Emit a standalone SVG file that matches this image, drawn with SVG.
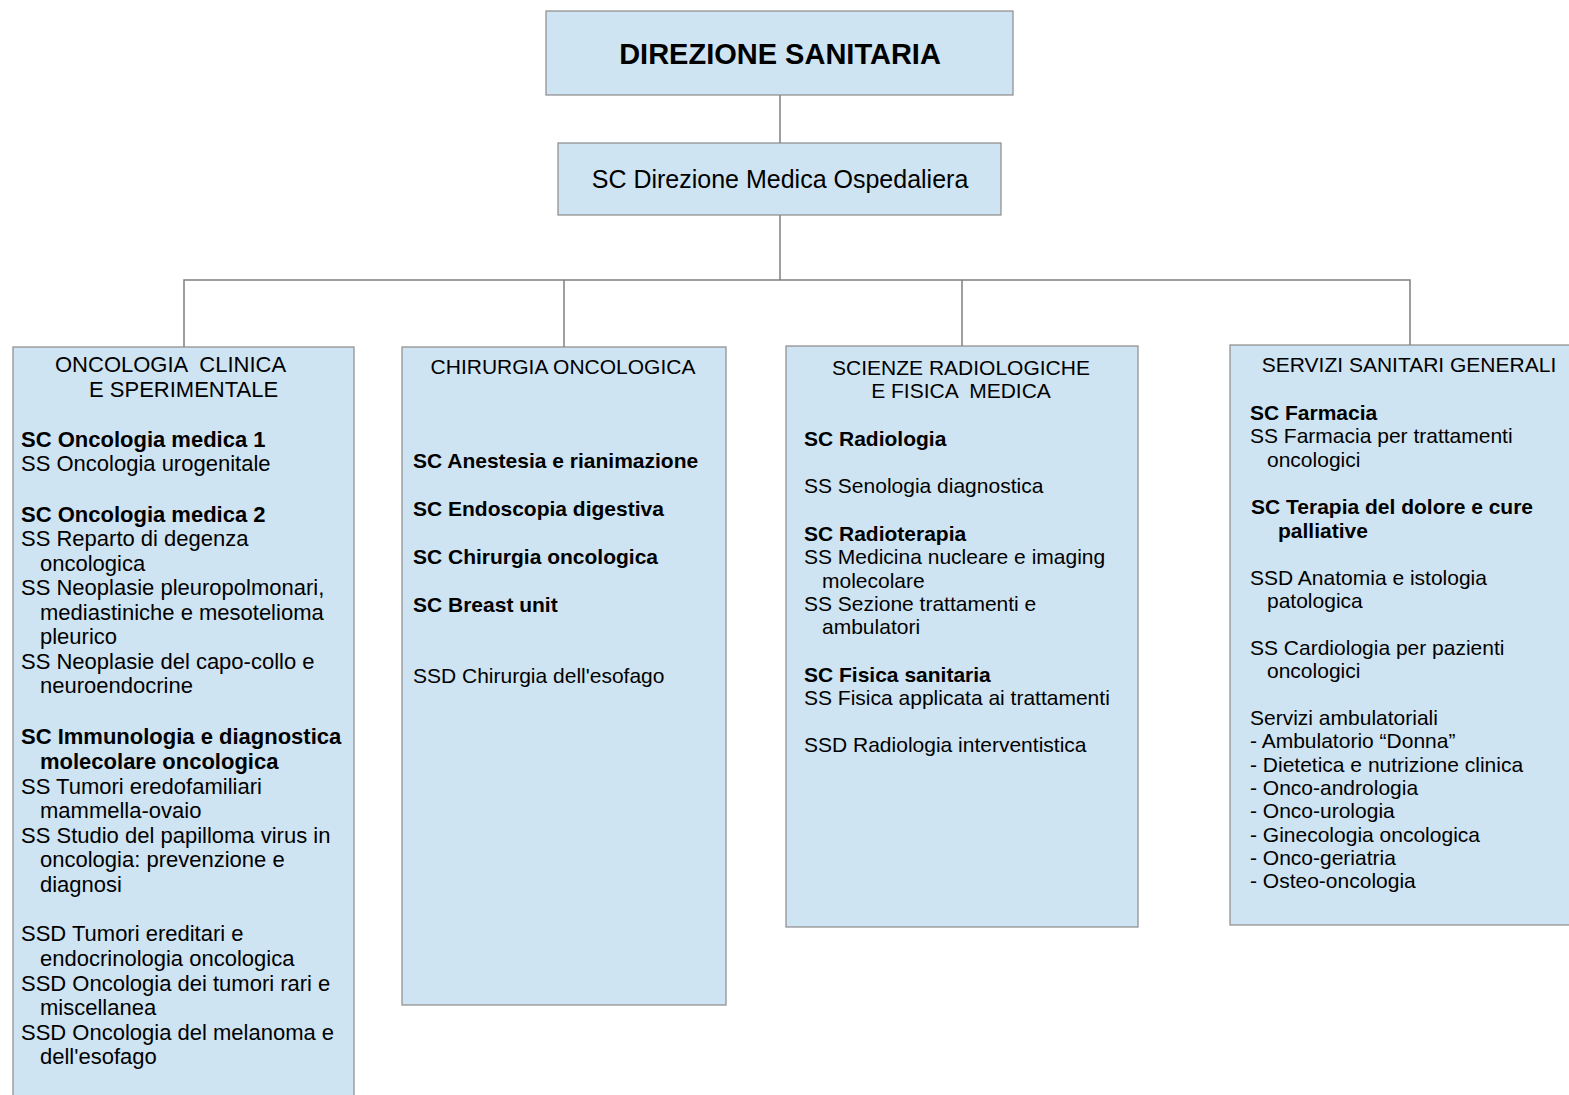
<svg xmlns="http://www.w3.org/2000/svg" width="1569" height="1095" viewBox="0 0 1569 1095">
  <style>
    .box { fill: #cfe4f2; stroke: #8a8a8a; stroke-width: 1.2; }
    .link { fill: none; stroke: #7f7f7f; stroke-width: 1.5; }
    text { font-family: "Liberation Sans", Arial, sans-serif; fill: #000; white-space: pre; }
    .t21 { font-size: 21px; }
    .t22 { font-size: 22px; }
    .b { font-weight: bold; }
  </style>
  <rect width="1569" height="1095" fill="#ffffff"/>

  <!-- connectors -->
  <g id="connectors">
    <path class="link" d="M780 95 V143"/>
    <path class="link" d="M780 215 V280"/>
    <path class="link" d="M184 347 V280 H1410 V345"/>
    <path class="link" d="M564 280 V347"/>
    <path class="link" d="M962 280 V346"/>
  </g>

  <!-- top level -->
  <g id="direzione-sanitaria">
    <rect class="box" x="546" y="11" width="467" height="84"/>
    <text x="780" y="64" text-anchor="middle" font-size="29" font-weight="bold">DIREZIONE SANITARIA</text>
  </g>

  <g id="direzione-medica">
    <rect class="box" x="558" y="143" width="443" height="72"/>
    <text x="780" y="188" text-anchor="middle" font-size="25">SC Direzione Medica Ospedaliera</text>
  </g>

  <!-- department 1 -->
  <g id="oncologia-clinica" class="t22">
    <rect class="box" x="13" y="347" width="341" height="760"/>
    <text x="55" y="372">ONCOLOGIA  CLINICA</text>
    <text x="89" y="397">E SPERIMENTALE</text>
    <text x="21" y="447" class="b">SC Oncologia medica 1</text>
    <text x="21" y="471">SS Oncologia urogenitale</text>
    <text x="21" y="522" class="b">SC Oncologia medica 2</text>
    <text x="21" y="546">SS Reparto di degenza</text>
    <text x="40" y="571">oncologica</text>
    <text x="21" y="595">SS Neoplasie pleuropolmonari,</text>
    <text x="40" y="620">mediastiniche e mesotelioma</text>
    <text x="40" y="644">pleurico</text>
    <text x="21" y="669">SS Neoplasie del capo-collo e</text>
    <text x="40" y="693">neuroendocrine</text>
    <text x="21" y="744" class="b">SC Immunologia e diagnostica</text>
    <text x="40" y="769" class="b">molecolare oncologica</text>
    <text x="21" y="794">SS Tumori eredofamiliari</text>
    <text x="40" y="818">mammella-ovaio</text>
    <text x="21" y="843">SS Studio del papilloma virus in</text>
    <text x="40" y="867">oncologia: prevenzione e</text>
    <text x="40" y="892">diagnosi</text>
    <text x="21" y="941">SSD Tumori ereditari e</text>
    <text x="40" y="966">endocrinologia oncologica</text>
    <text x="21" y="991">SSD Oncologia dei tumori rari e</text>
    <text x="40" y="1015">miscellanea</text>
    <text x="21" y="1040">SSD Oncologia del melanoma e</text>
    <text x="40" y="1064">dell'esofago</text>
  </g>

  <!-- department 2 -->
  <g id="chirurgia-oncologica" class="t21">
    <rect class="box" x="402" y="347" width="324" height="658"/>
    <text x="563" y="374" text-anchor="middle">CHIRURGIA ONCOLOGICA</text>
    <text x="413" y="468" class="b">SC Anestesia e rianimazione</text>
    <text x="413" y="516" class="b">SC Endoscopia digestiva</text>
    <text x="413" y="564" class="b">SC Chirurgia oncologica</text>
    <text x="413" y="612" class="b">SC Breast unit</text>
    <text x="413" y="683">SSD Chirurgia dell'esofago</text>
  </g>

  <!-- department 3 -->
  <g id="scienze-radiologiche" class="t21">
    <rect class="box" x="786" y="346" width="352" height="581"/>
    <text x="961" y="375" text-anchor="middle">SCIENZE RADIOLOGICHE</text>
    <text x="961" y="398" text-anchor="middle">E FISICA  MEDICA</text>
    <text x="804" y="446" class="b">SC Radiologia</text>
    <text x="804" y="493">SS Senologia diagnostica</text>
    <text x="804" y="541" class="b">SC Radioterapia</text>
    <text x="804" y="564">SS Medicina nucleare e imaging</text>
    <text x="822" y="588">molecolare</text>
    <text x="804" y="611">SS Sezione trattamenti e</text>
    <text x="822" y="634">ambulatori</text>
    <text x="804" y="682" class="b">SC Fisica sanitaria</text>
    <text x="804" y="705">SS Fisica applicata ai trattamenti</text>
    <text x="804" y="752">SSD Radiologia interventistica</text>
  </g>

  <!-- department 4 -->
  <g id="servizi-sanitari" class="t21">
    <rect class="box" x="1230" y="345" width="360" height="580"/>
    <text x="1409" y="372" text-anchor="middle">SERVIZI SANITARI GENERALI</text>
    <text x="1250" y="420" class="b">SC Farmacia</text>
    <text x="1250" y="443">SS Farmacia per trattamenti</text>
    <text x="1267" y="467">oncologici</text>
    <text x="1251" y="514" class="b">SC Terapia del dolore e cure</text>
    <text x="1278" y="538" class="b">palliative</text>
    <text x="1250" y="585">SSD Anatomia e istologia</text>
    <text x="1267" y="608">patologica</text>
    <text x="1250" y="655">SS Cardiologia per pazienti</text>
    <text x="1267" y="678">oncologici</text>
    <text x="1250" y="725">Servizi ambulatoriali</text>
    <text x="1250" y="748">- Ambulatorio “Donna”</text>
    <text x="1250" y="772">- Dietetica e nutrizione clinica</text>
    <text x="1250" y="795">- Onco-andrologia</text>
    <text x="1250" y="818">- Onco-urologia</text>
    <text x="1250" y="842">- Ginecologia oncologica</text>
    <text x="1250" y="865">- Onco-geriatria</text>
    <text x="1250" y="888">- Osteo-oncologia</text>
  </g>
</svg>
